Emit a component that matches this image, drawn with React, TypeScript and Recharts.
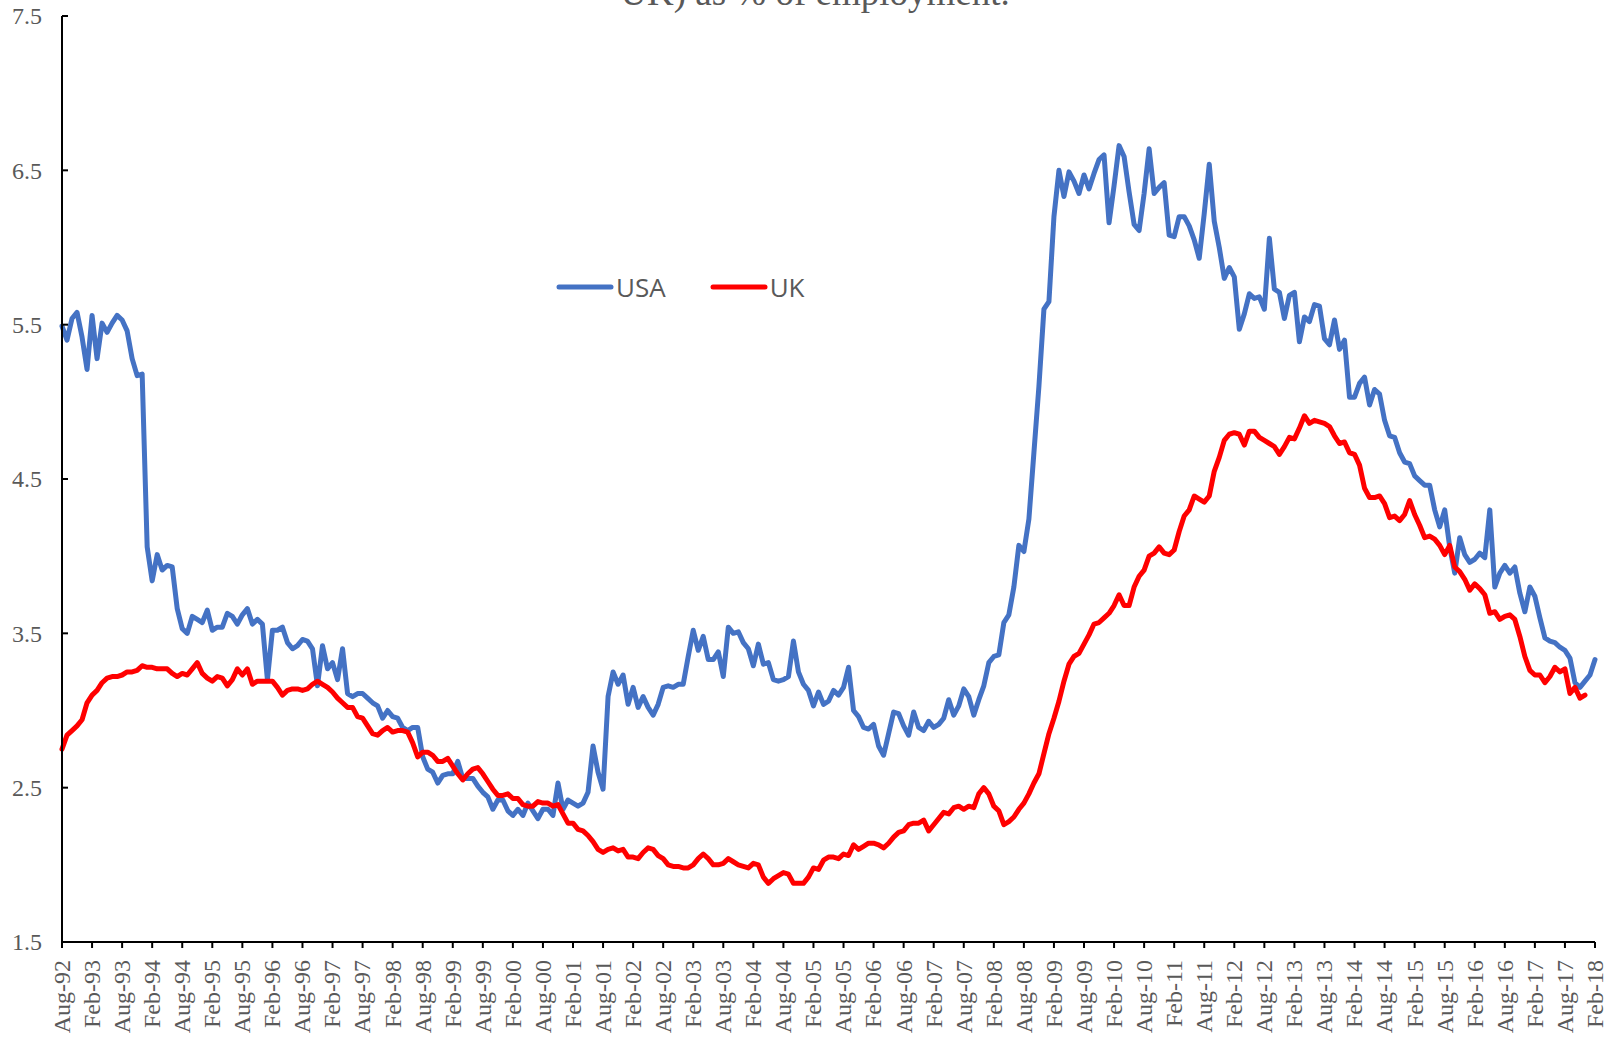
import {LineChart, Line, XAxis, YAxis, Legend} from "recharts";

// monthly series, Aug-92 .. Feb-18
const usa = [
    5.49, 5.40, 5.54, 5.58, 5.42, 5.21, 5.56, 5.28, 5.51, 5.45, 5.51, 5.56,
    5.53, 5.46, 5.28, 5.17, 5.18, 4.06, 3.84, 4.01, 3.91, 3.94, 3.93, 3.66,
    3.53, 3.50, 3.61, 3.59, 3.57, 3.65, 3.52, 3.54, 3.54, 3.63, 3.61, 3.56,
    3.62, 3.66, 3.56, 3.59, 3.56, 3.20, 3.52, 3.52, 3.54, 3.44, 3.40, 3.42,
    3.46, 3.45, 3.40, 3.16, 3.42, 3.27, 3.31, 3.20, 3.40, 3.11, 3.09, 3.11,
    3.11, 3.08, 3.05, 3.03, 2.95, 3.00, 2.96, 2.95, 2.89, 2.87, 2.89, 2.89,
    2.70, 2.62, 2.60, 2.53, 2.58, 2.59, 2.59, 2.67, 2.56, 2.56, 2.56, 2.51,
    2.47, 2.44, 2.36, 2.42, 2.42, 2.35, 2.32, 2.36, 2.32, 2.40, 2.35, 2.30,
    2.36, 2.36, 2.32, 2.53, 2.36, 2.42, 2.40, 2.38, 2.40, 2.47, 2.77, 2.60,
    2.49, 3.09, 3.25, 3.17, 3.23, 3.04, 3.15, 3.02, 3.09, 3.02, 2.97, 3.04,
    3.15, 3.16, 3.15, 3.17, 3.17, 3.35, 3.52, 3.39, 3.48, 3.33, 3.33, 3.38,
    3.22, 3.54, 3.50, 3.51, 3.44, 3.40, 3.29, 3.43, 3.30, 3.31, 3.20, 3.19,
    3.20, 3.22, 3.45, 3.25, 3.17, 3.13, 3.03, 3.12, 3.04, 3.06, 3.13, 3.10,
    3.15, 3.28, 3.00, 2.96, 2.89, 2.88, 2.91, 2.77, 2.71, 2.85, 2.99, 2.98,
    2.90, 2.84, 2.99, 2.89, 2.87, 2.93, 2.89, 2.91, 2.95, 3.07, 2.97, 3.03,
    3.14, 3.09, 2.97, 3.07, 3.16, 3.31, 3.35, 3.36, 3.57, 3.62, 3.80, 4.07,
    4.03, 4.24, 4.67, 5.10, 5.60, 5.65, 6.20, 6.50, 6.33, 6.49, 6.43, 6.35,
    6.47, 6.38, 6.48, 6.57, 6.60, 6.16, 6.40, 6.66, 6.59, 6.36, 6.15, 6.11,
    6.35, 6.64, 6.35, 6.39, 6.42, 6.08, 6.07, 6.20, 6.20, 6.14, 6.05, 5.93,
    6.22, 6.54, 6.17, 6.00, 5.80, 5.87, 5.81, 5.47, 5.57, 5.70, 5.67, 5.68,
    5.60, 6.06, 5.73, 5.71, 5.54, 5.69, 5.71, 5.39, 5.55, 5.52, 5.63, 5.62,
    5.41, 5.37, 5.53, 5.34, 5.40, 5.03, 5.03, 5.12, 5.16, 4.98, 5.08, 5.05,
    4.88, 4.78, 4.77, 4.67, 4.61, 4.60, 4.52, 4.49, 4.46, 4.46, 4.30, 4.19,
    4.30, 4.06, 3.89, 4.12, 4.01, 3.96, 3.98, 4.02, 3.99, 4.30, 3.80, 3.89,
    3.94, 3.89, 3.93, 3.76, 3.64, 3.80, 3.74, 3.60, 3.47, 3.45, 3.44, 3.41,
    3.39, 3.34, 3.18, 3.15, 3.19, 3.23, 3.33,
];

const uk = [
    2.75, 2.84, 2.87, 2.90, 2.94, 3.05, 3.10, 3.13, 3.18, 3.21, 3.22, 3.22,
    3.23, 3.25, 3.25, 3.26, 3.29, 3.28, 3.28, 3.27, 3.27, 3.27, 3.24, 3.22,
    3.24, 3.23, 3.27, 3.31, 3.24, 3.21, 3.19, 3.22, 3.21, 3.16, 3.20, 3.27,
    3.23, 3.27, 3.17, 3.19, 3.19, 3.19, 3.19, 3.15, 3.10, 3.13, 3.14, 3.14,
    3.13, 3.14, 3.17, 3.19, 3.17, 3.15, 3.12, 3.08, 3.05, 3.02, 3.02, 2.96,
    2.95, 2.90, 2.85, 2.84, 2.87, 2.89, 2.86, 2.87, 2.87, 2.86, 2.79, 2.70,
    2.73, 2.73, 2.71, 2.67, 2.67, 2.69, 2.64, 2.59, 2.55, 2.59, 2.62, 2.63,
    2.59, 2.54, 2.49, 2.45, 2.45, 2.46, 2.43, 2.43, 2.39, 2.38, 2.38, 2.41,
    2.40, 2.40, 2.38, 2.39, 2.33, 2.27, 2.27, 2.23, 2.22, 2.19, 2.15, 2.10,
    2.08, 2.10, 2.11, 2.09, 2.10, 2.05, 2.05, 2.04, 2.08, 2.11, 2.10, 2.06,
    2.04, 2.00, 1.99, 1.99, 1.98, 1.98, 2.00, 2.04, 2.07, 2.04, 2.00, 2.00,
    2.01, 2.04, 2.02, 2.00, 1.99, 1.98, 2.01, 2.00, 1.92, 1.88, 1.91, 1.93,
    1.95, 1.94, 1.88, 1.88, 1.88, 1.92, 1.98, 1.97, 2.03, 2.05, 2.05, 2.04,
    2.07, 2.06, 2.13, 2.10, 2.12, 2.14, 2.14, 2.13, 2.11, 2.14, 2.18, 2.21,
    2.22, 2.26, 2.27, 2.27, 2.29, 2.22, 2.26, 2.30, 2.34, 2.33, 2.37, 2.38,
    2.36, 2.38, 2.37, 2.46, 2.50, 2.46, 2.38, 2.35, 2.26, 2.28, 2.31, 2.36,
    2.40, 2.46, 2.53, 2.59, 2.72, 2.85, 2.95, 3.06, 3.19, 3.30, 3.35, 3.37,
    3.43, 3.49, 3.56, 3.57, 3.60, 3.63, 3.68, 3.75, 3.68, 3.68, 3.80, 3.87,
    3.91, 4.00, 4.02, 4.06, 4.02, 4.01, 4.04, 4.16, 4.26, 4.30, 4.39, 4.37,
    4.35, 4.39, 4.55, 4.64, 4.75, 4.79, 4.80, 4.79, 4.72, 4.81, 4.81, 4.77,
    4.75, 4.73, 4.71, 4.66, 4.71, 4.77, 4.76, 4.83, 4.91, 4.86, 4.88, 4.87,
    4.86, 4.84, 4.78, 4.73, 4.74, 4.67, 4.66, 4.59, 4.44, 4.38, 4.38, 4.39,
    4.34, 4.25, 4.26, 4.23, 4.27, 4.36, 4.27, 4.20, 4.12, 4.13, 4.11, 4.07,
    4.01, 4.07, 3.93, 3.90, 3.85, 3.78, 3.82, 3.79, 3.75, 3.63, 3.64, 3.59,
    3.61, 3.62, 3.59, 3.48, 3.35, 3.26, 3.23, 3.23, 3.18, 3.22, 3.28, 3.25,
    3.27, 3.11, 3.15, 3.08, 3.10,
];

const monthNames = ["Jan", "Feb", "Mar", "Apr", "May", "Jun", "Jul", "Aug", "Sep", "Oct", "Nov", "Dec"];
const startYear = 1992;
const startMonth = 7; // Aug

const yTicks = [1.5, 2.5, 3.5, 4.5, 5.5, 6.5, 7.5];
const legendOrder = ["USA", "UK"];

const labelFont = '"Liberation Serif", "Times New Roman", serif';
const grey = "#595959";

const chartData = usa.map((v, i) => {
    const t = startMonth + i;
    const yy = (startYear + Math.floor(t / 12)) % 100;
    return {
        month: `${monthNames[t % 12]}-${String(yy).padStart(2, "0")}`,
        usa: v,
        uk: i < uk.length ? uk[i] : null,
    };
});

const XTick = ({x, y, payload}: any) => (
    <text
        x={x}
        y={y}
        dy="0.33em"
        textAnchor="end"
        transform={`rotate(-90, ${x}, ${y})`}
        fontFamily={labelFont}
        fontSize={24}
        fill={grey}
    >
        {payload.value}
    </text>
);

const YTick = ({x, y, payload}: any) => (
    <text x={x} y={y} dy="0.35em" textAnchor="end" fontFamily={labelFont} fontSize={24} fill={grey}>
        {payload.value.toFixed(1)}
    </text>
);

const LegendContent = ({payload}: any) => {
    // keep series order (USA, UK) instead of the default alphabetical one
    const items = [...(payload || [])].sort(
        (a: any, b: any) => legendOrder.indexOf(a.value) - legendOrder.indexOf(b.value)
    );
    return (
        <div style={{display: "flex", alignItems: "center", fontFamily: '"Open Sans", sans-serif', fontSize: 26, color: grey}}>
            {items.map((p: any) => (
                <div key={p.value} style={{display: "flex", alignItems: "center", marginRight: 44}}>
                    <svg width={58} height={10}>
                        <line x1={3} y1={5} x2={55} y2={5} stroke={p.color} strokeWidth={5} strokeLinecap="round"/>
                    </svg>
                    <span style={{marginLeft: 2}}>{p.value}</span>
                </div>
            ))}
        </div>
    );
};

export default function App() {
    return (
        <div style={{position: "relative", width: 1618, height: 1044, background: "#fff", overflow: "hidden"}}>
            <style>{"body{margin:0}"}</style>
            <div
                style={{
                    position: "absolute",
                    top: -26,
                    left: 0,
                    width: 1630,
                    textAlign: "center",
                    fontFamily: labelFont,
                    fontSize: 37,
                    lineHeight: "37px",
                    color: grey,
                }}
            >
                UK) as % of employment.
            </div>
            <LineChart
                width={1618}
                height={1044}
                data={chartData}
                margin={{top: 16, right: 23, bottom: 0, left: 0}}
            >
                <XAxis
                    dataKey="month"
                    interval={5}
                    height={102}
                    tickSize={6}
                    tickMargin={12}
                    tick={<XTick/>}
                    axisLine={{stroke: "#000", strokeWidth: 2}}
                    tickLine={{stroke: "#000", strokeWidth: 2}}
                />
                <YAxis
                    domain={[1.5, 7.5]}
                    ticks={yTicks}
                    width={62}
                    tickSize={-6}
                    tickMargin={26}
                    tick={<YTick/>}
                    axisLine={{stroke: "#000", strokeWidth: 2}}
                    tickLine={{stroke: "#000", strokeWidth: 2}}
                />
                <Legend
                    layout="horizontal"
                    verticalAlign="middle"
                    align="center"
                    content={<LegendContent/>}
                    wrapperStyle={{left: 556, top: 269, width: "auto"}}
                />
                <Line
                    type="linear"
                    dataKey="usa"
                    name="USA"
                    stroke="#4472C4"
                    strokeWidth={5}
                    strokeLinejoin="round"
                    strokeLinecap="round"
                    dot={false}
                    activeDot={false}
                    isAnimationActive={false}
                />
                <Line
                    type="linear"
                    dataKey="uk"
                    name="UK"
                    stroke="#FF0000"
                    strokeWidth={5}
                    strokeLinejoin="round"
                    strokeLinecap="round"
                    dot={false}
                    activeDot={false}
                    isAnimationActive={false}
                />
            </LineChart>
        </div>
    );
}
